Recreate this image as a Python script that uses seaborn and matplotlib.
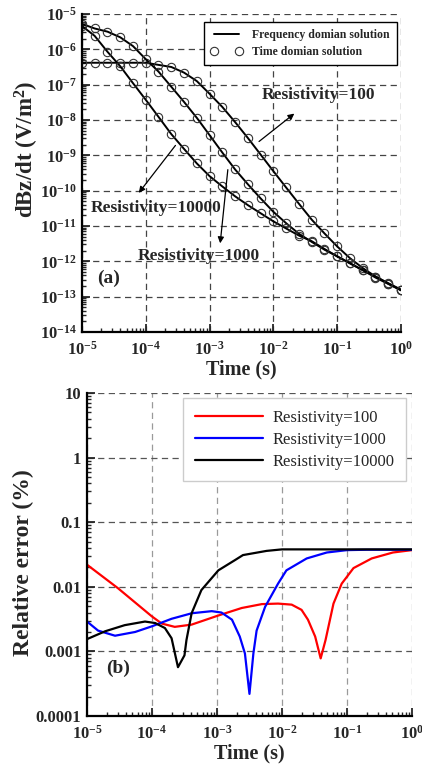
import numpy as np
import pandas as pd
import matplotlib
matplotlib.use("Agg")
import matplotlib.pyplot as plt
import matplotlib.ticker as mticker
import seaborn as sns

# ---- panel (a): dBz/dt, frequency vs time domain (log10 values)
time_a = [1.00e-5, 1.58e-5, 2.51e-5, 3.98e-5, 6.31e-5, 1.00e-4, 1.58e-4, 2.51e-4, 3.98e-4,
          6.31e-4, 1.00e-3, 1.58e-3, 2.51e-3, 3.98e-3, 6.31e-3, 1.00e-2, 1.58e-2, 2.51e-2,
          3.98e-2, 6.31e-2, 1.00e-1, 1.58e-1, 2.51e-1, 3.98e-1, 6.31e-1, 1.00e0]
log_dbz_100 = [-6.38, -6.38, -6.38, -6.38, -6.38, -6.38, -6.44, -6.50, -6.66, -6.90,
               -7.26, -7.63, -8.06, -8.51, -8.98, -9.45, -9.91, -10.37, -10.82, -11.21,
               -11.58, -11.91, -12.19, -12.43, -12.63, -12.82]
log_dbz_1000 = [-5.28, -5.41, -5.50, -5.66, -5.91, -6.28, -6.63, -7.06, -7.49, -7.94,
                -8.43, -8.92, -9.40, -9.82, -10.22, -10.60, -10.92, -11.22, -11.45, -11.67,
                -11.86, -12.05, -12.25, -12.46, -12.64, -12.82]
log_dbz_10000 = [-5.34, -5.62, -6.07, -6.48, -6.96, -7.43, -7.91, -8.40, -8.82, -9.23,
                 -9.59, -9.88, -10.16, -10.41, -10.64, -10.87, -11.07, -11.27, -11.43, -11.65,
                 -11.86, -12.06, -12.25, -12.43, -12.62, -12.80]

# ---- panel (b): relative error (%) for each resistivity
time_err_100 = [1.0e-5, 3.0e-5, 9.9e-5, 1.41e-4, 2.24e-4, 4.07e-4, 1.05e-3, 2.40e-3, 4.9e-3,
                8.7e-3, 1.41e-2, 2.0e-2, 2.51e-2, 3.24e-2, 3.94e-2, 4.68e-2, 6.2e-2,
                8.3e-2, 1.26e-1, 2.4e-1, 5.1e-1, 1.0e0]
err_100 = [2.2e-2, 9.5e-3, 3.5e-3, 2.7e-3, 2.4e-3, 2.6e-3, 3.6e-3, 4.7e-3, 5.4e-3,
           5.5e-3, 5.3e-3, 4.4e-3, 3.1e-3, 1.7e-3, 7.8e-4, 1.5e-3, 5.5e-3,
           1.12e-2, 1.95e-2, 2.75e-2, 3.4e-2, 3.7e-2]
time_err_1000 = [1.0e-5, 1.48e-5, 2.7e-5, 5.5e-5, 1.0e-4, 2.0e-4, 4.1e-4, 8.3e-4, 1.17e-3,
                 1.7e-3, 2.24e-3, 2.69e-3, 3.16e-3, 3.63e-3, 4.07e-3, 5.5e-3, 8.7e-3,
                 1.17e-2, 2.4e-2, 4.9e-2, 1.0e-1, 2.0e-1, 1.0e0]
err_1000 = [2.9e-3, 2.1e-3, 1.75e-3, 2.0e-3, 2.45e-3, 3.2e-3, 3.9e-3, 4.2e-3, 4.0e-3,
            3.1e-3, 1.7e-3, 9.3e-4, 2.2e-4, 9.3e-4, 2.1e-3, 4.9e-3, 1.12e-2,
            1.8e-2, 2.75e-2, 3.4e-2, 3.7e-2, 3.75e-2, 3.75e-2]
time_err_10000 = [1.0e-5, 1.9e-5, 3.8e-5, 7.8e-5, 1.12e-4, 1.58e-4, 2.0e-4, 2.51e-4, 3.16e-4,
                  3.39e-4, 4.07e-4, 5.75e-4, 1.05e-3, 1.9e-3, 2.51e-3, 5.8e-3, 1.0e-2,
                  1.0e-1, 1.0e0]
err_10000 = [1.55e-3, 2.05e-3, 2.55e-3, 2.9e-3, 2.75e-3, 2.3e-3, 1.6e-3, 5.7e-4, 8.7e-4,
             1.5e-3, 3.9e-3, 8.9e-3, 1.8e-2, 2.6e-2, 3.1e-2, 3.6e-2, 3.8e-2,
             3.8e-2, 3.8e-2]

resistivities = ["100", "1000", "10000"]
err_colors = ["#ff0000", "#0000ff", "#000000"]

sns.set_theme(style="ticks")
plt.rcParams["font.family"] = ["Liberation Serif", "DejaVu Serif"]
plt.rcParams["font.weight"] = "bold"
plt.rcParams["mathtext.fontset"] = "custom"
plt.rcParams["mathtext.rm"] = "Liberation Serif:bold"
plt.rcParams["mathtext.it"] = "Liberation Serif:italic:bold"
plt.rcParams["mathtext.bf"] = "Liberation Serif:bold"
plt.rcParams["axes.unicode_minus"] = True

fig = plt.figure(figsize=(4.22, 7.69), dpi=100)
ax1 = fig.add_axes([0.1943, 0.5683, 0.756, 0.4135])
ax2 = fig.add_axes([0.2062, 0.0689, 0.770, 0.420])


def style_axis(ax, hcolor, vcolor):
    ax.set_xscale("log")
    ax.set_yscale("log")
    for s in ["top", "right"]:
        ax.spines[s].set_visible(False)
    for s in ["left", "bottom"]:
        ax.spines[s].set_linewidth(1.6)
        ax.spines[s].set_color("black")
    ax.xaxis.set_major_locator(mticker.LogLocator(base=10, numticks=20))
    ax.xaxis.set_minor_locator(mticker.LogLocator(base=10, subs=np.arange(2, 10), numticks=100))
    ax.yaxis.set_major_locator(mticker.LogLocator(base=10, numticks=20))
    ax.yaxis.set_minor_locator(mticker.LogLocator(base=10, subs=np.arange(2, 10), numticks=100))
    ax.xaxis.set_minor_formatter(mticker.NullFormatter())
    ax.yaxis.set_minor_formatter(mticker.NullFormatter())
    ax.tick_params(which="major", direction="in", length=6, width=1.3, labelsize=12, pad=4)
    ax.tick_params(axis="x", which="major", pad=6)
    ax.tick_params(which="minor", direction="in", length=3, width=1.0)
    ax.grid(False)
    ax.xaxis.grid(True, which="major", linestyle=(0, (5, 3.5)), color=vcolor, linewidth=0.9)
    ax.yaxis.grid(True, which="major", linestyle=(0, (5, 3.5)), color=hcolor, linewidth=0.9)
    ax.set_axisbelow(True)


# ---- panel (a)
style_axis(ax1, "#444444", "#444444")
series_a = {"100": log_dbz_100, "1000": log_dbz_1000, "10000": log_dbz_10000}
for i, r in enumerate(resistivities):
    df = pd.DataFrame({"time": time_a, "dbz": np.power(10.0, series_a[r])})
    sns.lineplot(data=df, x="time", y="dbz", ax=ax1, color="black", linewidth=1.4,
                 label="Frequency domian solution" if i == 0 else None, legend=False)
    ax1.plot(df["time"], df["dbz"], linestyle="none", marker="o", markersize=6,
             markerfacecolor="none", markeredgecolor="#333333", markeredgewidth=0.8,
             label="Time domian solution" if i == 0 else None)
ax1.set_xlim(1e-5, 1)
ax1.set_ylim(1e-14, 1e-5)
ax1.set_xlabel("Time (s)", fontsize=14.5, fontweight="bold", labelpad=1)
ax1.set_ylabel("dBz/dt (V/m$^2$)", fontsize=16.5, fontweight="bold", va="center")
ax1.yaxis.set_label_coords(-0.172, 0.575)
for lab in ax1.get_xticklabels() + ax1.get_yticklabels():
    lab.set_fontweight("bold")

leg1 = ax1.legend(loc="upper right", bbox_to_anchor=(0.987, 0.975), borderaxespad=0,
                  fontsize=8.5, frameon=True, fancybox=False, edgecolor="black",
                  framealpha=1, handlelength=2.7, numpoints=2, labelspacing=0.45,
                  borderpad=0.6)
leg1.get_frame().set_linewidth(1.0)
for t in leg1.get_texts():
    t.set_fontweight("bold")

arrow = dict(arrowstyle="-|>", color="black", lw=0.9, mutation_scale=9)
ax1.annotate("", xy=(2.3e-2, 1.7e-8), xytext=(5.5e-3, 2.2e-9), arrowprops=arrow)
ax1.annotate("", xy=(7.3e-5, 7.5e-11), xytext=(3.1e-4, 2.2e-9), arrowprops=arrow)
ax1.annotate("", xy=(1.45e-3, 2.7e-12), xytext=(1.95e-3, 4.7e-10), arrowprops=arrow)
ax1.text(5.0e-2, 5.1e-8, "Resistivity=100", fontsize=12.5, fontweight="bold", ha="center", va="center")
ax1.text(1.45e-4, 3.2e-11, "Resistivity=10000", fontsize=12.5, fontweight="bold", ha="center", va="center")
ax1.text(6.8e-4, 1.4e-12, "Resistivity=1000", fontsize=12.5, fontweight="bold", ha="center", va="center")
ax1.text(0.082, 0.17, "(a)", transform=ax1.transAxes, fontsize=14, fontweight="bold",
         ha="center", va="center")

# ---- panel (b)
style_axis(ax2, "#555555", "#9a9a9a")
series_b = {"100": (time_err_100, err_100), "1000": (time_err_1000, err_1000),
            "10000": (time_err_10000, err_10000)}
for r, c in zip(resistivities, err_colors):
    t, e = series_b[r]
    df = pd.DataFrame({"time": t, "err": e})
    sns.lineplot(data=df, x="time", y="err", ax=ax2, color=c, linewidth=1.6,
                 label=f"Resistivity={r}", legend=False)
ax2.set_xlim(1e-5, 1)
ax2.set_ylim(1e-4, 10)
ax2.set_yticks([1e-4, 1e-3, 1e-2, 1e-1, 1, 10])
ax2.set_yticklabels(["0.0001", "0.001", "0.01", "0.1", "1", "10"])
ax2.set_xlabel("Time (s)", fontsize=14.5, fontweight="bold", labelpad=1)
ax2.set_ylabel("Relative error (%)", fontsize=17, fontweight="bold", va="center")
ax2.yaxis.set_label_coords(-0.197, 0.474)
for lab in ax2.get_xticklabels() + ax2.get_yticklabels():
    lab.set_fontweight("bold")

leg2 = ax2.legend(loc="upper right", bbox_to_anchor=(0.982, 0.985), borderaxespad=0,
                  fontsize=12, frameon=True, fancybox=False, edgecolor="#cccccc",
                  framealpha=1, handlelength=4.1, handletextpad=0.55, labelspacing=0.36,
                  borderpad=0.7)
for t in leg2.get_texts():
    t.set_fontweight("normal")
ax2.text(0.095, 0.149, "(b)", transform=ax2.transAxes, fontsize=14, fontweight="bold",
         ha="center", va="center")

fig.savefig("out.png", dpi=100)
